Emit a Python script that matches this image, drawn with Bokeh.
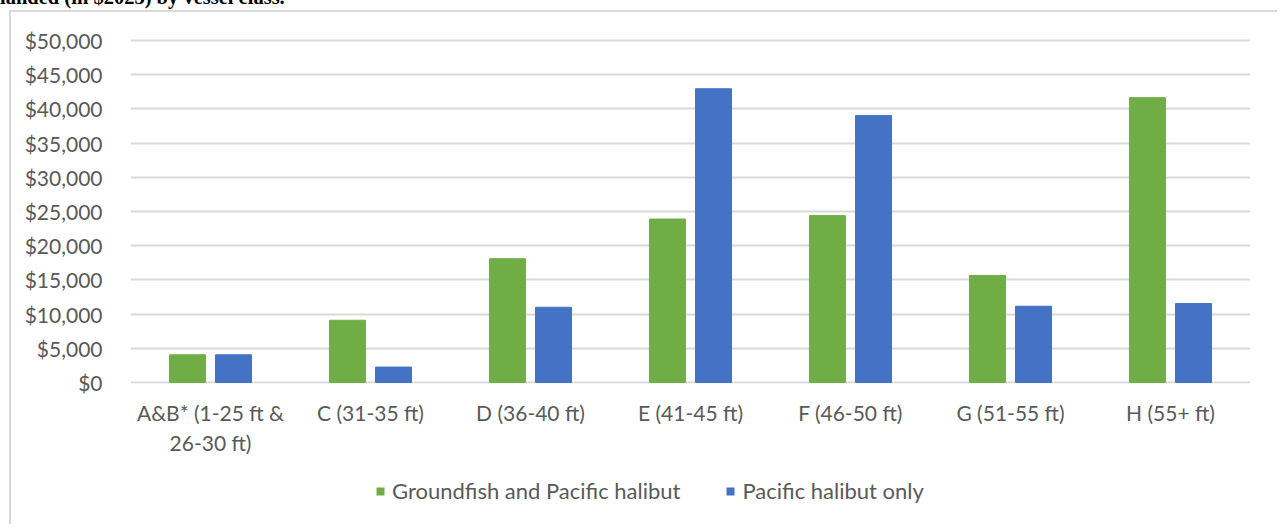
from bokeh.plotting import figure
from bokeh.layouts import column
from bokeh.models import (FactorRange, Range1d, FixedTicker, NumeralTickFormatter,
                          Legend, LegendItem, ColumnDataSource, Div)
from bokeh.transform import dodge
from bokeh.embed import file_html
from bokeh.resources import INLINE

# ---- data ----
categories = ["A&B* (1-25 ft &\n26-30 ft)", "C (31-35 ft)", "D (36-40 ft)", "E (41-45 ft)",
              "F (46-50 ft)", "G (51-55 ft)", "H (55+ ft)"]
groundfish_and_halibut = [4050, 9100, 18100, 23900, 24400, 15650, 41650]
halibut_only = [4050, 2250, 11000, 42950, 39050, 11150, 11550]
series_names = ["Groundfish and Pacific halibut", "Pacific halibut only"]
y_ticks = list(range(0, 50001, 5000))
title_text = "landed (in $2023) by vessel class."

GREEN = "#70AD47"
BLUE = "#4472C4"
GRAY_TXT = "#595959"
GRID = "#D9D9D9"
FONT = "Lato"

src = ColumnDataSource(dict(cat=categories, g=groundfish_and_halibut, h=halibut_only))

# ---- main chart ----
p = figure(x_range=FactorRange(*categories), y_range=Range1d(-150, 50300),
           width=1266, height=452, output_backend="svg", toolbar_location=None,
           min_border_left=119, min_border_right=27, min_border_top=26, min_border_bottom=81)
p.outline_line_color = None
p.background_fill_color = "white"
p.border_fill_color = "white"

p.vbar(x=dodge("cat", -0.144, range=p.x_range), top="g", width=0.225, source=src,
       fill_color=GREEN, line_color=GREEN)
p.vbar(x=dodge("cat", 0.144, range=p.x_range), top="h", width=0.225, source=src,
       fill_color=BLUE, line_color=BLUE)

p.yaxis.ticker = FixedTicker(ticks=y_ticks)
p.yaxis.formatter = NumeralTickFormatter(format="$0,0")
for ax in (p.xaxis, p.yaxis):
    ax.axis_line_color = None
    ax.major_tick_line_color = None
    ax.minor_tick_line_color = None
    ax.major_label_text_font = FONT
    ax.major_label_text_font_size = "21px"
    ax.major_label_text_color = GRAY_TXT
p.yaxis.major_label_standoff = 22
p.xaxis.major_label_standoff = 10

p.xgrid.grid_line_color = None
p.ygrid.grid_line_color = GRID
p.ygrid.grid_line_width = 2

# ---- legend strip ----
pl = figure(width=1266, height=60, output_backend="svg", toolbar_location=None,
            x_range=Range1d(0, 1), y_range=Range1d(0, 1),
            x_axis_location=None, y_axis_location=None,
            min_border_left=0, min_border_right=0, min_border_top=0, min_border_bottom=0)
pl.outline_line_color = None
pl.xgrid.grid_line_color = None
pl.ygrid.grid_line_color = None
pl.border_fill_color = "white"
# swatch renderers: zero-width, zero-height bars, so only the legend swatches show
lg1 = pl.vbar(x=[0.5], top=[0], width=0, fill_color=GREEN, line_color=None)
lg2 = pl.vbar(x=[0.5], top=[0], width=0, fill_color=BLUE, line_color=None)
legend = Legend(items=[LegendItem(label=series_names[0], renderers=[lg1]),
                       LegendItem(label=series_names[1], renderers=[lg2])],
                orientation="horizontal", location=(245, 20))
legend.label_text_font = FONT
legend.label_text_font_size = "22px"
legend.label_text_color = GRAY_TXT
legend.label_height = 20
legend.glyph_width = 10
legend.glyph_height = 10
legend.label_standoff = 7
legend.spacing = 45
legend.padding = 0
legend.margin = 0
legend.border_line_color = None
legend.background_fill_alpha = 0
pl.add_layout(legend)

# ---- title (cut off at the top, as in the source) ----
title = Div(text=title_text, width=420, height=23, margin=(-13, 0, 0, 0),
            styles={"font-family": "Liberation Serif", "font-weight": "bold",
                    "font-size": "20.5px", "line-height": "20px", "color": "black",
                    "white-space": "nowrap"})

box = column(p, pl, margin=(0, 0, 0, 9),
             styles={"border-left": "2px solid #D9D9D9", "border-top": "2px solid #D9D9D9"})
root = column(title, box)

open("out.html", "w").write(file_html(root, INLINE))
